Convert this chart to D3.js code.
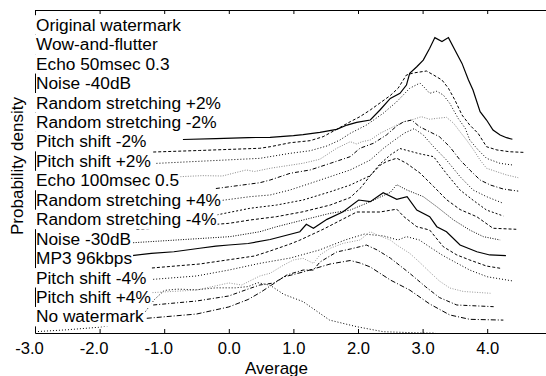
<!DOCTYPE html>
<html><head><meta charset="utf-8">
<script src="https://cdn.jsdelivr.net/npm/d3@7"></script>
<style>
html,body{margin:0;padding:0;background:#fff;}
svg{display:block;font-family:"Liberation Sans",Arial,Helvetica,sans-serif;}
</style></head>
<body><svg id="c" width="546" height="376"></svg>
<script>
// ---------- DATA ----------
const labels = ["Original watermark","Wow-and-flutter","Echo 50msec 0.3","Noise -40dB",
  "Random stretching +2%","Random stretching -2%","Pitch shift -2%","Pitch shift +2%",
  "Echo 100msec 0.5","Random stretching +4%","Random stretching -4%","Noise -30dB",
  "MP3 96kbps","Pitch shift -4%","Pitch shift +4%","No watermark"];
const xTicks = [-3,-2,-1,0,1,2,3,4];

// [average, density] pairs, density in units of the vertical offset step
const s00 = [[-0.71,0],[-0.2,0.07],[0.3,0.15],[0.64,0.17],[1.0,0.3],[1.15,0.38],[1.41,0.55],[1.67,0.79],[1.83,1.12],[1.98,1.33],[2.19,1.51],[2.34,2.29],[2.5,3.19],[2.65,3.58],[2.75,4.22],[2.8,5.13],[2.91,5.64],[3.01,6.16],[3.11,7.07],[3.19,7.9],[3.3,7.6],[3.4,7.9],[3.5,6.94],[3.61,5.9],[3.71,4.61],[3.78,3.84],[3.89,2.16],[3.99,1.51],[4.09,0.74],[4.2,0.35],[4.3,0.14],[4.39,0.02]];
const s01 = [[-1.17,0.03],[-0.45,0.15],[0.48,0.32],[0.64,0.44],[0.95,0.75],[1.26,0.91],[1.46,1.22],[1.67,1.79],[1.88,2.38],[2.03,2.77],[2.19,3.29],[2.34,3.83],[2.5,4.41],[2.62,4.97],[2.75,6.0],[2.86,6.16],[3.06,6.31],[3.17,6.0],[3.3,5.61],[3.4,4.97],[3.5,4.06],[3.61,2.9],[3.73,2.12],[3.86,1.47],[3.99,0.44],[4.15,0.19],[4.35,0.05],[4.58,0]];
const s02 = [[-1.12,0.15],[0.48,0.54],[0.95,0.93],[1.26,1.13],[1.52,1.5],[1.72,1.96],[1.88,2.48],[2.13,3.12],[2.39,4.03],[2.6,4.93],[2.8,5.97],[2.96,6.38],[3.04,5.97],[3.11,5.58],[3.22,5.74],[3.32,5.45],[3.42,4.81],[3.55,3.64],[3.66,2.87],[3.73,1.96],[3.86,1.19],[3.99,0.54],[4.2,0.15],[4.4,0.02]];
const s03 = [[-0.75,0.12],[-0.4,0.2],[-0.1,0.17],[0.27,0.64],[0.4,0.52],[0.64,0.77],[1.15,1.16],[1.41,1.47],[1.67,2.32],[1.88,2.83],[1.98,2.65],[2.06,2.83],[2.19,2.96],[2.34,3.48],[2.5,3.87],[2.6,4.12],[2.71,4.38],[2.8,4.46],[2.98,4.77],[3.11,4.57],[3.22,4.64],[3.37,4.72],[3.48,4.26],[3.58,3.6],[3.68,2.96],[3.79,2.19],[3.89,1.41],[3.99,0.77],[4.15,0.5],[4.3,0.25],[4.48,0.04]];
const s04 = [[-0.2,0.2],[0.48,0.65],[0.64,0.86],[0.95,1.38],[1.26,1.64],[1.57,2.15],[1.88,2.67],[2.03,3.32],[2.24,3.71],[2.44,4.35],[2.6,5.05],[2.71,5.38],[2.83,5.51],[2.95,5.0],[3.11,4.6],[3.26,4.22],[3.42,3.44],[3.58,2.41],[3.73,1.64],[3.89,0.86],[4.05,0.47],[4.25,0.16],[4.48,0]];
const s05 = [[-0.14,0.26],[0.33,0.57],[0.64,0.7],[0.95,1.09],[1.26,1.6],[1.57,2.12],[1.88,2.64],[2.19,3.41],[2.39,4.3],[2.55,4.9],[2.72,5.5],[2.87,5.84],[3.01,5.35],[3.17,4.44],[3.37,3.41],[3.58,2.12],[3.78,1.09],[3.99,0.57],[4.25,0.05]];
const s06 = [[-0.19,0.15],[0.33,0.67],[0.74,0.92],[1.15,1.31],[1.57,1.95],[1.88,2.47],[2.19,3.2],[2.34,4.1],[2.5,4.8],[2.65,5.3],[2.8,5.1],[2.95,4.9],[3.17,4.67],[3.37,3.35],[3.58,2.08],[3.78,1.3],[3.99,0.53],[4.25,0.07]];
const s07 = [[-1.43,0.04],[-0.8,0.2],[0.0,0.5],[0.33,0.76],[0.74,1.02],[1.15,1.4],[1.57,1.92],[1.88,2.5],[2.05,3.3],[2.19,4.2],[2.34,5.0],[2.44,5.29],[2.6,5.55],[2.75,5.16],[2.96,4.4],[3.17,3.36],[3.37,2.34],[3.58,1.57],[3.84,1.01],[4.09,0.12],[4.45,0.04]];
const s08 = [[-1.48,0],[0.02,0.47],[0.48,0.85],[0.74,1.24],[1.15,1.76],[1.57,2.28],[1.88,2.53],[2.19,3.18],[2.5,3.9],[2.6,4.5],[2.75,4.1],[3.01,3.57],[3.22,2.79],[3.48,1.76],[3.73,0.98],[3.94,0.47],[4.2,0.21]];
const s09 = [[-1.5,0],[-1.2,0.18],[-0.85,0.3],[-0.45,0.57],[-0.2,0.74],[0.0,0.82],[0.3,0.94],[0.64,1.25],[1.1,1.85],[1.2,2.43],[1.31,2.12],[1.52,2.81],[1.77,3.4],[2.01,4.31],[2.19,4.18],[2.39,4.88],[2.6,4.36],[2.76,4.57],[2.91,3.53],[3.11,3.02],[3.22,2.24],[3.37,1.85],[3.58,0.82],[3.84,0.3],[4.04,0.05],[4.29,0]];
const s10 = [[-1.19,0.04],[-0.45,0.35],[0.4,0.97],[0.64,1.36],[0.95,1.9],[1.1,2.2],[1.46,3.04],[1.98,4.38],[2.34,4.38],[2.6,4.6],[2.71,4.02],[2.91,3.24],[3.11,2.98],[3.32,1.69],[3.53,1.05],[3.73,0.66],[3.99,0.19],[4.2,0.02]];
const s11 = [[-1.17,0.16],[-0.5,0.42],[0.0,0.88],[0.48,1.4],[0.95,1.81],[1.4,2.43],[1.8,3.21],[2.1,3.67],[2.4,3.52],[2.62,3.21],[2.75,3.47],[2.95,3.21],[3.11,2.67],[3.3,2.05],[3.5,1.5],[3.73,0.88],[4.0,0.36],[4.4,0.03]];
const s12 = [[-1.22,0.12],[-0.5,0.33],[0.0,0.88],[0.2,0.72],[0.48,1.42],[0.64,1.63],[0.85,2.27],[1.0,2.66],[1.15,2.79],[1.31,2.4],[1.41,3.05],[1.57,3.57],[1.77,3.95],[2.03,4.21],[2.19,4.85],[2.34,4.52],[2.5,4.21],[2.6,3.82],[2.8,3.18],[2.95,2.5],[3.11,1.73],[3.26,1.03],[3.42,0.49],[3.63,0.22],[4.05,0.08]];
const s13 = [[-1.17,0.17],[-0.5,0.48],[0.0,0.87],[0.3,1.41],[0.48,1.72],[0.7,1.88],[0.9,2.5],[1.15,2.88],[1.31,2.88],[1.41,3.5],[1.67,4.28],[1.88,4.51],[2.03,4.69],[2.13,4.82],[2.3,4.43],[2.5,3.81],[2.8,2.63],[3.05,1.57],[3.26,0.75],[3.53,0.17],[4.1,0.04]];
const s14 = [[-1.27,0.14],[-0.5,0.47],[0.0,1.02],[0.3,1.6],[0.5,2.18],[0.85,3.34],[1.15,3.73],[1.57,4.35],[1.88,4.62],[2.03,4.43],[2.19,4.12],[2.5,3.11],[2.8,2.33],[3.11,1.25],[3.42,0.4],[3.73,0.06],[4.25,0]];
const s15 = [[-3.0,0.1],[-2.5,0.25],[-2.0,0.45],[-1.7,0.7],[-1.45,1.1],[-1.3,1.6],[-1.15,2.6],[-1.0,3.3],[-0.8,3.4],[-0.5,3.35],[-0.2,3.5],[0.1,3.5],[0.3,3.6],[0.45,3.9],[0.64,3.7],[0.85,3.0],[1.15,2.43],[1.56,1.0],[1.98,0.49],[2.39,0.1],[3.0,0],[3.2,0]];
const series = [s00,s01,s02,s03,s04,s05,s06,s07,s08,s09,s10,s11,s12,s13,s14,s15];

// ---------- STYLES ----------
const dash = ["", "3,2", "1,2", "1,1.5", "4,2,1,2", "1,2", "2,2", "3,2", "1,1.5", "", "3,2", "1,2", "1,1.5", "4,2,1,2", "5,2,1,2", "1,2"];
const col  = ["#000","#000","#000","#888","#000","#000","#000","#000","#000","#000","#000","#000","#999","#000","#000","#000"];

// ---------- CHART ----------
const svg = d3.select("#c");
const L = 35, T = 10, B = 333;
const x = d3.scaleLinear().domain([-3, 5]).range([L, L + 8*64.6]);
const y = d3.scaleLinear().domain([0, 25.04]).range([B, T]);
const n = series.length;

const line = d3.line().x(d => x(d[0]));
series.forEach((s, i) => {
  const off = n - 1 - i;
  svg.append("path")
    .attr("d", line.y(d => y(d[1] + off))(s))
    .attr("fill", "none")
    .attr("stroke", col[i])
    .attr("stroke-width", i === 0 || i === 9 ? 1.2 : 1)
    .attr("stroke-dasharray", dash[i] || null);
});

// axes
const font = '"Liberation Sans",Arial,Helvetica,sans-serif';
const gb = svg.append("g").attr("transform", `translate(0,${B})`)
  .call(d3.axisBottom(x).tickValues(xTicks).tickFormat(d => d.toFixed(1))
        .tickSizeInner(-4).tickSizeOuter(0).tickPadding(9.5));
const gt = svg.append("g").attr("transform", `translate(0,${T})`)
  .call(d3.axisTop(x).tickValues(xTicks).tickFormat("").tickSizeInner(-4).tickSizeOuter(0));
const gl = svg.append("g").attr("transform", `translate(${L},0)`)
  .call(d3.axisLeft(y).tickValues([]).tickSizeOuter(0));
[gb, gt, gl].forEach(g => {
  g.selectAll("path,line").attr("stroke", "#000").attr("stroke-width", 1);
  g.selectAll("text").attr("font-size", 16.6).attr("font-family", font).attr("fill", "#000");
});
gb.selectAll(".tick text").attr("dx", d => d < 0 ? -6 : 0);

// labels with white backgrounds
const showAxis = new Set([3, 7, 9, 11, 12, 14]);
labels.forEach((t, i) => {
  const by = 30.7 + i * 19.45;
  const g = svg.append("g");
  const r = g.append("rect").attr("fill", "#fff");
  const tx = g.append("text").attr("x", L + 1).attr("y", by)
    .attr("font-size", 17.3).attr("font-family", font).attr("fill", "#000").text(t);
  const w = tx.node().getComputedTextLength();
  const x0 = showAxis.has(i) ? L + 1 : L - 1;
  r.attr("x", x0).attr("y", by - 15.5).attr("width", L + 1 + w + 1 - x0).attr("height", 19.45);
});

// axis titles
svg.append("text").attr("x", 276.5).attr("y", 373.5).attr("text-anchor", "middle")
  .attr("font-size", 17).attr("font-family", font).text("Average");
svg.append("text").attr("transform", "translate(23,166) rotate(-90)").attr("text-anchor", "middle")
  .attr("font-size", 17).attr("font-family", font).text("Probability density");
</script></body></html>
